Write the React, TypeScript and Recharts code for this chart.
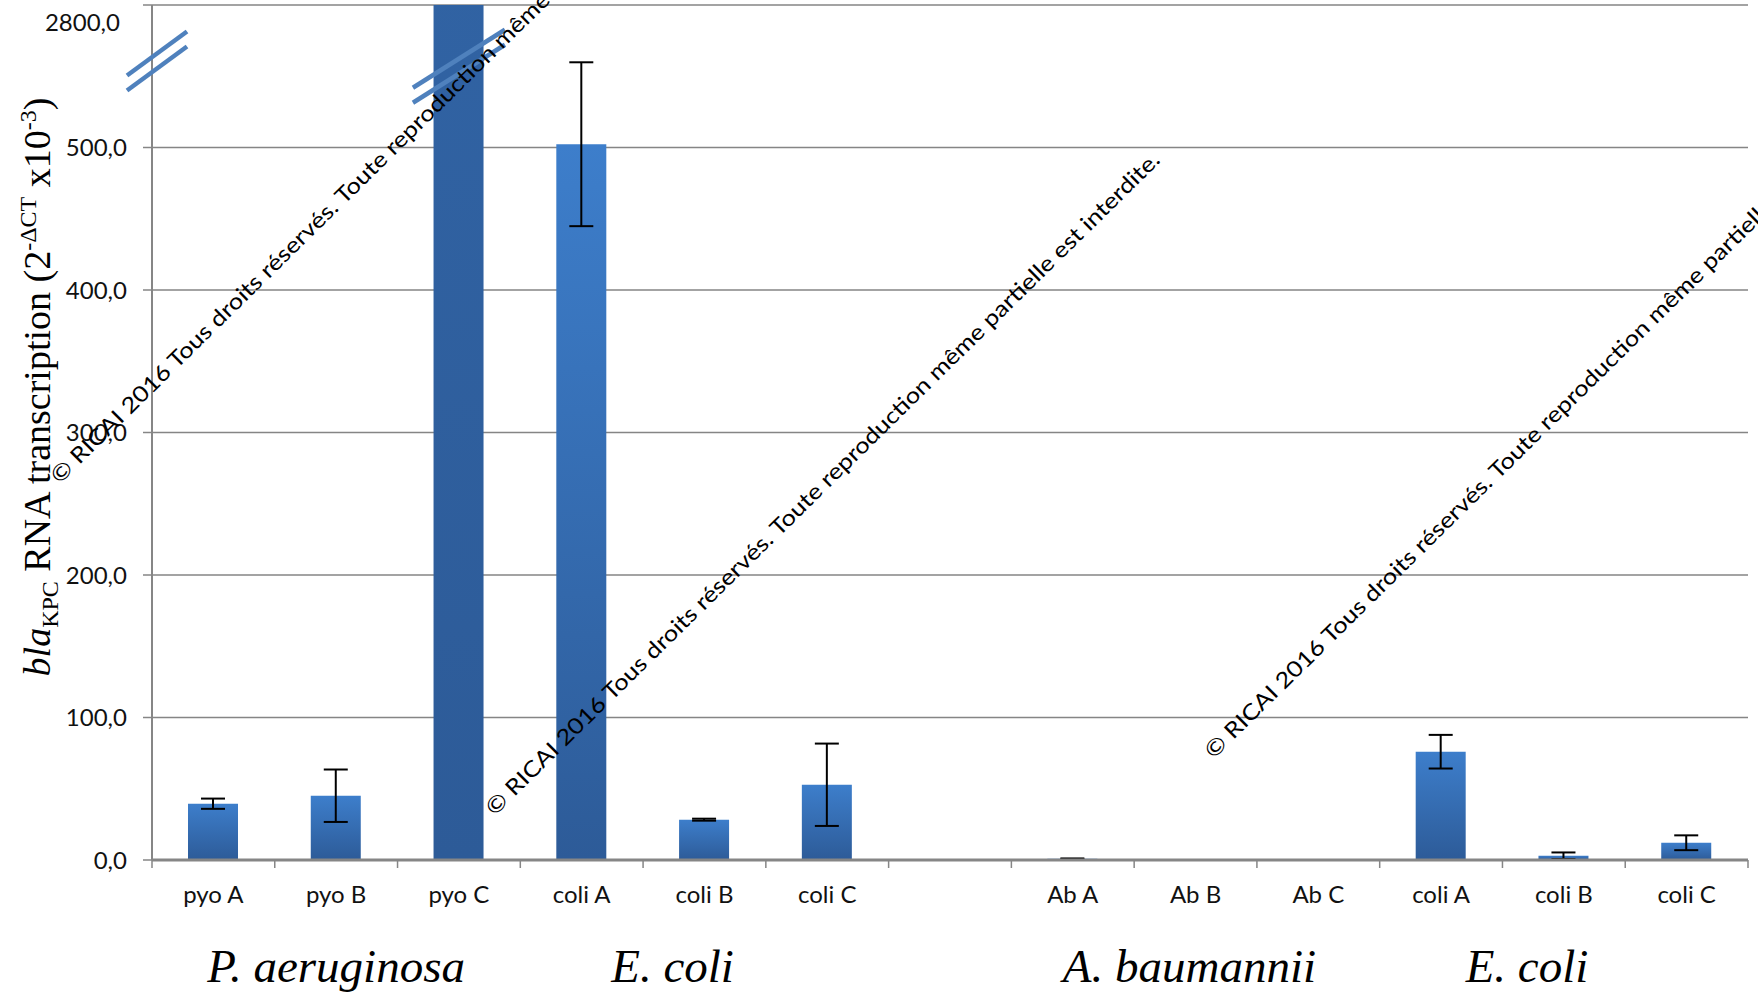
import React from "react";
import {
  BarChart,
  Bar,
  XAxis,
  YAxis,
  CartesianGrid,
  ErrorBar,
  ReferenceDot,
} from "recharts";

// categories along the x axis (the blank one is the gap between the two panels)
const categories = [
  "pyo A",
  "pyo B",
  "pyo C",
  "coli A",
  "coli B",
  "coli C",
  "",
  "Ab A",
  "Ab B",
  "Ab C",
  "coli A",
  "coli B",
  "coli C",
];

// blaKPC transcription (2^-dCT x10^-3), pyo C runs off the broken axis
const transcription = [39.5, 45.1, 2800, 502.3, 28.3, 52.8, null, 0.8, 0.3, 0.2, 76.0, 3.0, 12.1];
const errors = [3.6, 18.4, null, 57.5, 0.7, 28.9, null, 0.3, null, null, 11.8, 2.3, 5.2];

const yTicks = [0, 100, 200, 300, 400, 500, 600];
const yTickLabels = ["0,0", "100,0", "200,0", "300,0", "400,0", "500,0", "2800,0"];

const speciesLabels = ["P. aeruginosa", "E. coli", "A. baumannii", "E. coli"];
const speciesAt = [1, 4, 8, 11];

const watermark =
  "\u00a9 RICAI 2016 Tous droits r\u00e9serv\u00e9s. Toute reproduction m\u00eame partielle est interdite.";

// unique ids so repeated names (coli A, B, C) stay separate categories
const data = categories.map((name, i) => ({
  id: `c${i}`,
  name,
  value: transcription[i],
  err: errors[i],
}));

// layout
const W = 1758;
const H = 994;
const Y_AXIS_W = 152;
const X_AXIS_H = 134;
const MARGIN = { top: 5, right: 10, bottom: 0, left: 0 };
const BAND = (W - Y_AXIS_W - MARGIN.right) / categories.length;
const SPECIES_SHIFT = [0, -0.26, -0.05, -0.3];
const TICK_SIZE = 9;
const TICK_MARGIN = 16;
const BREAK_COLOR = "#4f81bd";

const BreakMark = ({ cx, cy, hw, hh, gap }: any) => (
  <g>
    {[-gap / 2, gap / 2].map((off) => (
      <line
        key={off}
        x1={cx - hw}
        y1={cy + off + hh}
        x2={cx + hw}
        y2={cy + off - hh}
        stroke={BREAK_COLOR}
        strokeWidth={4.5}
      />
    ))}
  </g>
);

const YTick = ({ x, y, payload }: any) => {
  const i = yTicks.indexOf(payload.value);
  const top = i === yTicks.length - 1;
  return (
    <g>
      <text
        x={x - (top ? 7 : 0)}
        y={y + (top ? 13 : 0)}
        dy="0.355em"
        textAnchor="end"
        fontFamily="Lato"
        fontSize={24}
        fill="#111"
      >
        {yTickLabels[i]}
      </text>
      {top && (
        <BreakMark cx={x + TICK_SIZE + TICK_MARGIN + 5} cy={y + 52} hw={30} hh={22} gap={15} />
      )}
    </g>
  );
};

const XTick = ({ x, y, index }: any) => {
  const half = BAND / 2;
  const s = speciesAt.indexOf(index);
  return (
    <g>
      <line x1={x - half} x2={x - half} y1={y} y2={y + 8} stroke="#868686" strokeWidth={1.5} />
      {index === categories.length - 1 && (
        <line x1={x + half} x2={x + half} y1={y} y2={y + 8} stroke="#868686" strokeWidth={1.5} />
      )}
      <text x={x} y={y + 43} textAnchor="middle" fontFamily="Lato" fontSize={24} fill="#111">
        {categories[index]}
      </text>
      {s >= 0 && (
        <text
          x={x + SPECIES_SHIFT[s] * BAND}
          y={y + 122}
          textAnchor="middle"
          fontFamily="Liberation Serif"
          fontStyle="italic"
          fontSize={47}
          fill="#000"
        >
          {speciesLabels[s]}
        </text>
      )}
    </g>
  );
};

const App = () => {
  return (
    <div
      style={{
        position: "absolute",
        left: 0,
        top: 0,
        width: W,
        height: H,
        background: "#fff",
        overflow: "hidden",
      }}
    >
      <BarChart width={W} height={H} data={data} margin={MARGIN}>
        <defs>
          <linearGradient id="barFill" x1="0" y1="0" x2="0" y2="1">
            <stop offset="0%" stopColor="#3d7ecb" />
            <stop offset="100%" stopColor="#2d5b98" />
          </linearGradient>
        </defs>
        <CartesianGrid vertical={false} stroke="#858585" strokeWidth={1.5} />
        <XAxis
          dataKey="id"
          interval={0}
          height={X_AXIS_H}
          tickSize={0}
          tickMargin={0}
          tickLine={false}
          axisLine={{ stroke: "#868686", strokeWidth: 3 }}
          tick={<XTick />}
        />
        <XAxis
          xAxisId="frame"
          dataKey="id"
          orientation="top"
          height={0}
          tick={false}
          tickLine={false}
          axisLine={{ stroke: "#3f6698", strokeWidth: 2 }}
        />
        <YAxis
          width={Y_AXIS_W}
          domain={[0, 600]}
          ticks={yTicks}
          allowDataOverflow
          tickSize={TICK_SIZE}
          tickMargin={TICK_MARGIN}
          tickLine={{ stroke: "#868686", strokeWidth: 1.5 }}
          axisLine={{ stroke: "#868686", strokeWidth: 2 }}
          tick={<YTick />}
        />
        <YAxis
          yAxisId="frame"
          orientation="right"
          width={0}
          domain={[0, 1]}
          tick={false}
          tickLine={false}
          axisLine={{ stroke: "#3f6698", strokeWidth: 2 }}
        />
        <Bar dataKey="value" fill="url(#barFill)" barSize={50} isAnimationActive={false}>
          <ErrorBar dataKey="err" width={12} stroke="#000" strokeWidth={2} />
        </Bar>
        <ReferenceDot
          x="c2"
          y={557}
          ifOverflow="visible"
          shape={(p: any) => <BreakMark cx={p.cx} cy={p.cy} hw={46} hh={29} gap={15} />}
        />
        <text
          transform="translate(50,387) rotate(-90)"
          textAnchor="middle"
          fontFamily="Liberation Serif"
          fontSize={38}
          fill="#000"
        >
          <tspan fontStyle="italic">bla</tspan>
          <tspan fontSize={24} dy={8}>KPC</tspan>
          <tspan dy={-8}> RNA transcription (2</tspan>
          <tspan fontSize={24} dy={-14}>-ΔCT</tspan>
          <tspan dy={14}> x10</tspan>
          <tspan fontSize={24} dy={-14}>-3</tspan>
          <tspan dy={14}>)</tspan>
        </text>
      </BarChart>
      <svg
        width={W}
        height={H}
        style={{ position: "absolute", left: 0, top: 0, pointerEvents: "none" }}
      >
        {[
          [387, 151],
          [822, 483],
          [1541, 426],
        ].map(([cx, cy], k) => (
          <text
            key={k}
            x={cx}
            y={cy}
            transform={`rotate(-44.5 ${cx} ${cy})`}
            textAnchor="middle"
            dominantBaseline="central"
            fontFamily="Lato"
            fontSize={22}
            textLength={935}
            lengthAdjust="spacingAndGlyphs"
            fill="#000"
          >
            {watermark}
          </text>
        ))}
      </svg>
    </div>
  );
};

export default App;
